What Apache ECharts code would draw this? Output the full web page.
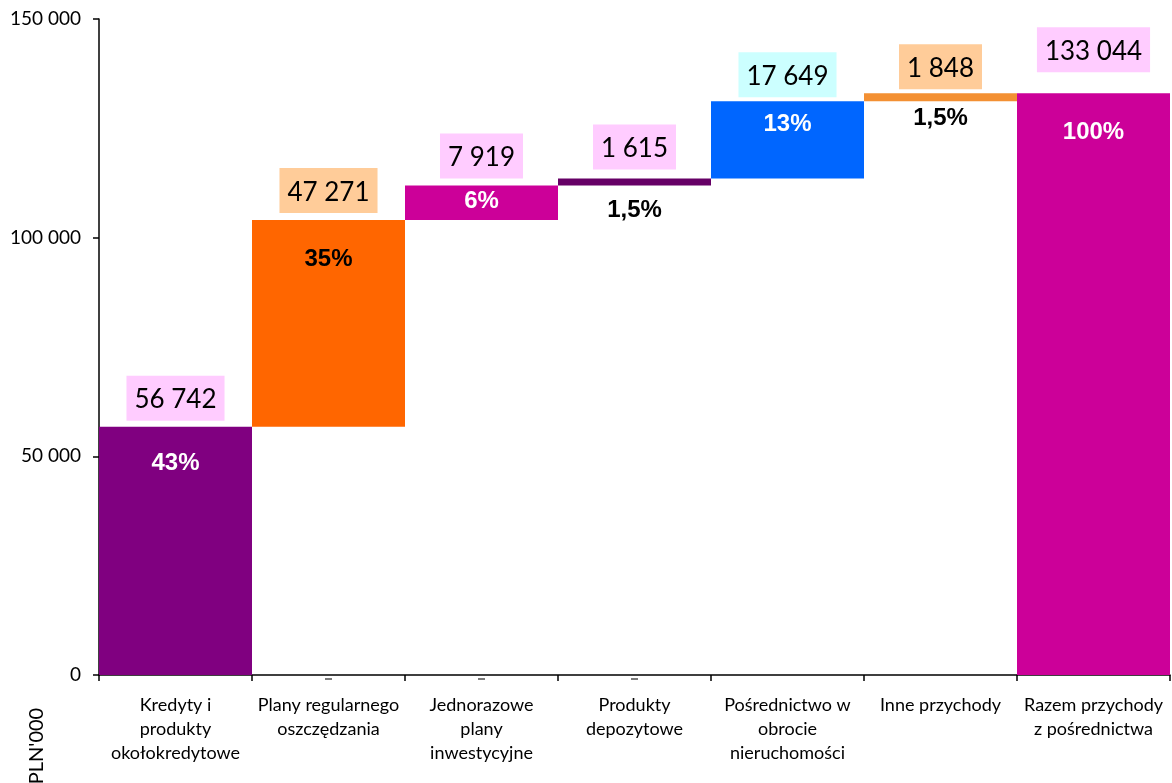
<!DOCTYPE html>
<html>
<head>
<meta charset="utf-8">
<script src="https://cdn.jsdelivr.net/npm/echarts@6/dist/echarts.min.js"></script>
<style>
html,body{margin:0;padding:0;background:#fff;}
#chart{width:1172px;height:783px;}
</style>
</head>
<body>
<div id="chart"></div>
<script>
// ---------- DATA ----------
const categories = [
  'Kredyty i\nprodukty\nokołokredytowe',
  'Plany regularnego\noszczędzania',
  'Jednorazowe\nplany\ninwestycyjne',
  'Produkty\ndepozytowe',
  'Pośrednictwo w\nobrocie\nnieruchomości',
  'Inne przychody',
  'Razem przychody\nz pośrednictwa'
];
const values = [56742, 47271, 7919, 1615, 17649, 1848, 133044];
const isTotal = [false, false, false, false, false, false, true];
const shares = ['43%', '35%', '6%', '1,5%', '13%', '1,5%', '100%'];
const dashCategories = [1, 2, 3];
const axisName = "PLN'000";

// ---------- STYLE ----------
const barColors = ['#800080', '#FF6600', '#CC0099', '#660066', '#0066FF', '#F39033', '#CC0099'];
const boxColors = ['#FFCCFF', '#FFCC99', '#FFCCFF', '#FFCCFF', '#CCFFFF', '#FFCC99', '#FFCCFF'];
const boxDistance = [6, 7, 7, 9, 4, 4, 21];
const shareColor = ['#fff', '#000', '#fff', '#000', '#fff', '#000', '#fff'];
const sharePos = ['insideTop', 'insideTop', 'insideTop', 'bottom', 'insideTop', 'bottom', 'insideTop'];
const shareDist = [25, 27, 4, 13, 11, 5, 27];

// ---------- BUILD ----------
const fmt = n => String(n).replace(/\B(?=(\d{3})+(?!\d))/g, ' ');
const bases = [];
const ends = [];
let run = 0;
values.forEach((v, i) => {
  if (isTotal[i]) { bases.push(0); ends.push(v); }
  else { bases.push(run); run += v; ends.push(run); }
});

const chart = echarts.init(document.getElementById('chart'));
chart.setOption({
  animation: false,
  backgroundColor: '#fff',
  grid: { left: 99, right: 2, top: 19, bottom: 108, containLabel: false },
  xAxis: {
    type: 'category',
    data: categories,
    boundaryGap: true,
    axisLine: { show: true, lineStyle: { color: '#000', width: 1.5 } },
    axisTick: { show: true, alignWithLabel: false, length: 6, lineStyle: { color: '#000', width: 1.5 } },
    axisLabel: {
      interval: 0, color: '#000', fontFamily: 'Lato', fontSize: 18,
      lineHeight: 24, margin: 18, align: 'center'
    },
    splitLine: { show: false }
  },
  yAxis: {
    type: 'value',
    min: 0, max: 150000, interval: 50000,
    axisLine: { show: true, lineStyle: { color: '#000', width: 1.5 } },
    axisTick: { show: true, inside: false, length: 6, lineStyle: { color: '#000', width: 1.5 } },
    axisLabel: { color: '#000', fontFamily: 'Lato', fontSize: 19, margin: 18, formatter: v => fmt(v) },
    splitLine: { show: false }
  },
  graphic: [{
    type: 'text', x: 37, y: 746, rotation: Math.PI / 2,
    style: { text: axisName, font: '20px Lato', fill: '#000', textAlign: 'center', textVerticalAlign: 'middle' }
  }],
  series: [
    {
      name: 'base', type: 'bar', stack: 'wf', barCategoryGap: '0%', barGap: '-100%',
      itemStyle: { color: 'transparent' }, silent: true,
      data: bases
    },
    {
      name: 'value', type: 'bar', stack: 'wf', barCategoryGap: '0%', barGap: '-100%',
      data: values.map((v, i) => ({
        value: v,
        itemStyle: { color: barColors[i] },
        label: {
          show: true, position: sharePos[i], distance: shareDist[i],
          formatter: shares[i], color: shareColor[i],
          fontFamily: 'Liberation Sans', fontWeight: 'bold', fontSize: 24
        }
      }))
    },
    {
      name: 'boxes', type: 'bar', barCategoryGap: '0%', barGap: '-100%', silent: true, z: 5,
      itemStyle: { color: 'transparent' },
      data: ends.map((e, i) => ({
        value: e,
        label: {
          show: true, position: 'top', distance: boxDistance[i],
          formatter: fmt(values[i]), color: '#000', fontFamily: 'Lato', fontSize: 26,
          backgroundColor: boxColors[i], padding: [11, 8, 8, 8]
        }
      }))
    },
    {
      name: 'dash', type: 'scatter', symbol: 'rect', symbolSize: [7, 1.5], symbolOffset: [0, 4],
      clip: false, silent: true, z: 10,
      itemStyle: { color: '#222' },
      data: dashCategories.map(c => [c, 0])
    }
  ]
});
</script>
</body>
</html>
